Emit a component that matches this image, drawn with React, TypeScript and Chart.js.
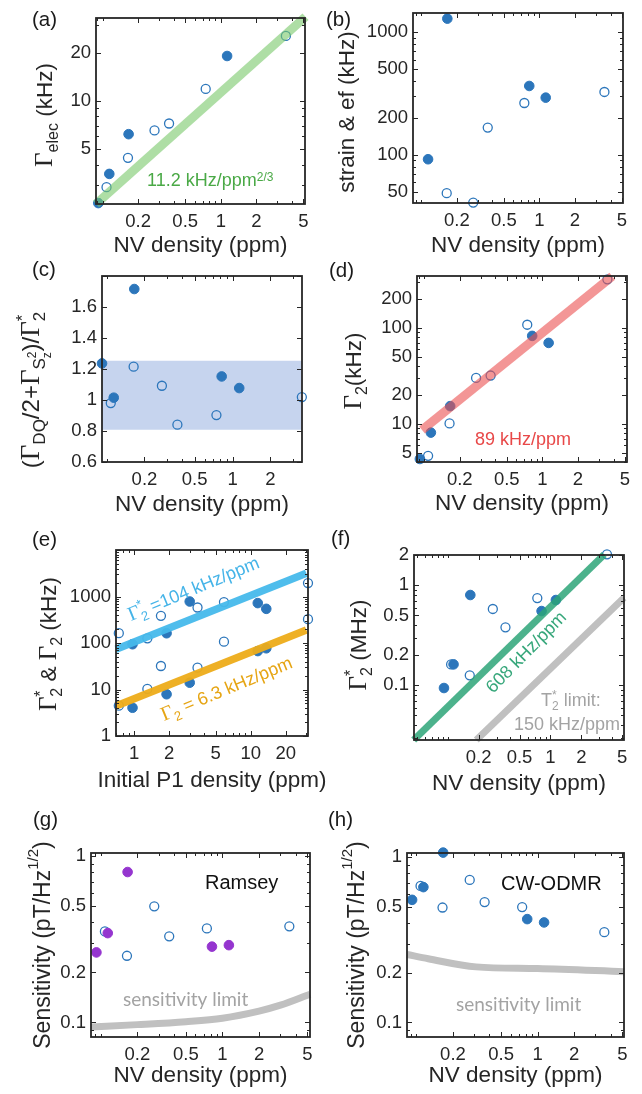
import React, { useEffect, useRef } from "react";
import { Chart, registerables } from "chart.js";

Chart.register(...registerables);

const W = 642;
const H = 1094;
const YW = 60;
const XH = 40;

const AX = "#262626";
const BLUE = "#2c76bb";
const PURPLE = "#9535cf";
const GRAY_LINE = "#c0c0c0";
const GRAY_TEXT = "#a3a3a3";
const SANS = '"Liberation Sans", Arial, Helvetica, sans-serif';
const SERIF = '"Liberation Serif", "Times New Roman", serif';

// ---------------- data ----------------
// NV densities (ppm): filled samples A-E, open samples F-K
const nvFilled = [0.092, 0.114, 0.166, 0.82, 1.13];
const nvOpen = [0.108, 0.164, 0.275, 0.365, 0.745, 3.55];
// initial P1 densities (ppm) of the same samples
const p1Filled = [0.97, 1.9, 3.0, 13.6, 11.5];
const p1Open = [0.74, 1.3, 3.5, 1.7, 5.9, 31];

const nvTicks = [0.2, 0.5, 1, 2, 5];

// (a) Γelec (kHz)
const elecFilled = [2.3, 3.5, 6.2, null, 19.1];
const elecOpen = [2.89, 4.41, 6.54, 7.23, 11.9, 25.5];
const elecFitX = [0.088, 5.2];
const elecFitY = [2.27, 33.6];

// (b) strain & ef (kHz)
const strainFilled = [null, 92, 1295, 365, 293];
const strainOpen = [null, 48.6, 40.7, 167, 265, 326];

// (c) ratio
const ratioFilled = [1.236, 1.015, 1.716, 1.152, 1.077];
const ratioOpen = [0.98, 1.215, 1.092, 0.841, 0.903, 1.019];
const ratioBandX = [0.092, 3.56];
const ratioBandHi = [1.254, 1.254];
const ratioBandLo = [0.808, 0.808];
const ratioTicks = [0.6, 0.8, 1, 1.2, 1.4, 1.6];

// (d) Γ2 (kHz)
const t2Filled = [4.3, 8.1, 15.3, 82.6, 69.8];
const t2Open = [4.64, 10.1, 30.1, 31.9, 108, 321];
const t2FitX = [0.096, 3.9];
const t2FitY = [8.6, 345];

// (e) Γ2* and Γ2 vs P1 (kHz)
const p1StarFilled = [94, 162, 780, 543, 721];
const p1StarOpen = [163, 126, 580, 384, 757, 1945];
const p1EchoFilled = [4.05, 7.9, 14, 77, 67];
const p1EchoOpen = [4.5, 10.3, 29.5, 32, 107, 326];
const p1StarFitX = [0.7, 30];
const p1StarFitY = [73, 3150];
const p1EchoFitX = [0.7, 30];
const p1EchoFitY = [4.4, 190];

// (f) Γ2* (MHz)
const t2sFilled = [0.094, 0.162, 0.8, 0.553, 0.713];
const t2sOpen = [0.162, 0.126, 0.58, 0.38, 0.746, 2.04];
const t2sFitX = [0.0467, 3.34];
const t2sFitY = [0.0284, 2.03];
const t2sLimX = [0.19, 5.2];
const t2sLimY = [0.0284, 0.75];

// (g) Ramsey sensitivity (pT/Hz^1/2)
const ramseyFilled = [0.264, 0.345, 0.805, 0.286, 0.292];
const ramseyOpen = [0.353, 0.252, 0.5, 0.33, 0.368, 0.379];
const ramseyLimX = [0.083, 0.2, 0.5, 1, 2, 3, 5.25];
const ramseyLimY = [0.094, 0.097, 0.101, 0.106, 0.117, 0.127, 0.148];

// (h) CW-ODMR sensitivity
const odmrFilled = [0.552, 0.659, 1.066, 0.422, 0.403];
const odmrOpen = [0.67, 0.496, 0.729, 0.535, 0.499, 0.352];
const odmrLimX = [0.0835, 0.125, 0.31, 1, 5.16];
const odmrLimY = [0.258, 0.243, 0.217, 0.212, 0.203];

// ---------------- helpers ----------------
type Seg = { t: string; s: number; serif?: boolean; family?: string; dy?: number; back?: boolean };
type Note = { segs: Seg[]; x: number; y: number; rot?: number; color: string; align?: "left" | "center" };
type Axis = { log: boolean; min: number; max: number; ticks: number[]; marks?: number[] };
type Panel = {
  id: string;
  box: { l: number; r: number; t: number; b: number };
  x: Axis;
  y: Axis;
  datasets: any[];
  yTitle: Seg[];
  yTitleX: number;
  yTitleY: number;
  xTitle: string;
  xTitleY: number;
  letter: string;
  letterX: number;
  letterY: number;
  notes: Note[];
};

const fontOf = (s: Seg) => `${s.s}px ${s.family ? s.family : s.serif ? SERIF : SANS}`;
const fmt = (v: number) => String(parseFloat(v.toPrecision(6)));

const pts = (xs: number[], ys: (number | null)[]) =>
  xs.map((x, i) => ({ x, y: ys[i] })).filter((d) => d.y !== null && d.y !== undefined);

const filledDs = (xs: number[], ys: (number | null)[], color = BLUE) => ({
  type: "scatter",
  data: pts(xs, ys),
  pointRadius: 4.8,
  pointBackgroundColor: color,
  pointBorderColor: color,
  pointBorderWidth: 1,
  showLine: false,
  clip: false,
  order: 1,
});
const openDs = (xs: number[], ys: (number | null)[]) => ({
  type: "scatter",
  data: pts(xs, ys),
  pointRadius: 4.5,
  pointBackgroundColor: "rgba(0,0,0,0)",
  pointBorderColor: BLUE,
  pointBorderWidth: 1.3,
  showLine: false,
  clip: false,
  order: 1,
});
const lineDs = (xs: number[], ys: number[], color: string, width: number, extra: any = {}) => ({
  type: "line",
  data: pts(xs, ys),
  borderColor: color,
  borderWidth: width,
  pointRadius: 0,
  borderCapStyle: "butt",
  fill: false,
  clip: false,
  order: 0,
  ...extra,
});

function drawSegs(ctx: CanvasRenderingContext2D, segs: Seg[], x: number, y: number, rot: number, align: string, color: string) {
  ctx.save();
  ctx.translate(x, y);
  ctx.rotate((rot * Math.PI) / 180);
  ctx.fillStyle = color;
  ctx.textBaseline = "alphabetic";
  ctx.textAlign = "left";
  const items: { seg: Seg; start: number }[] = [];
  let cursor = 0;
  let prevStart = 0;
  let prevEnd = 0;
  for (const s of segs) {
    ctx.font = fontOf(s);
    const w = ctx.measureText(s.t).width;
    const start = s.back ? prevStart : cursor;
    items.push({ seg: s, start });
    if (s.back) {
      cursor = Math.max(prevEnd, start + w);
      prevEnd = cursor;
    } else {
      prevStart = start;
      prevEnd = start + w;
      cursor = prevEnd;
    }
  }
  const off = align === "center" ? -cursor / 2 : 0;
  for (const it of items) {
    ctx.font = fontOf(it.seg);
    ctx.fillText(it.seg.t, off + it.start, it.seg.dy || 0);
  }
  ctx.restore();
}

function minorVals(ax: Axis) {
  if (!ax.log) return [];
  const out: number[] = [];
  const d0 = Math.floor(Math.log10(ax.min));
  const d1 = Math.ceil(Math.log10(ax.max));
  const all = ax.ticks.concat(ax.marks || []);
  for (let d = d0; d <= d1; d++) {
    for (let k = 1; k <= 9; k++) {
      const v = k * Math.pow(10, d);
      if (v < ax.min || v > ax.max) continue;
      if (all.some((m) => Math.abs(m - v) / v < 1e-6)) continue;
      out.push(v);
    }
  }
  return out;
}

function decorPlugin(p: Panel) {
  return {
    id: "decor_" + p.id,
    afterDatasetsDraw(chart: any) {
      const { ctx, chartArea: a } = chart;
      const xs = chart.scales.x;
      const ys = chart.scales.y;
      ctx.save();
      ctx.strokeStyle = AX;
      ctx.lineWidth = 1;
      const xTick = (v: number, len: number) => {
        const px = Math.round(xs.getPixelForValue(v)) + 0.5;
        if (px < a.left - 0.5 || px > a.right + 0.5) return;
        ctx.beginPath();
        ctx.moveTo(px, a.bottom);
        ctx.lineTo(px, a.bottom - len);
        ctx.moveTo(px, a.top);
        ctx.lineTo(px, a.top + len);
        ctx.stroke();
      };
      const yTick = (v: number, len: number) => {
        const py = Math.round(ys.getPixelForValue(v)) + 0.5;
        if (py < a.top - 0.5 || py > a.bottom + 0.5) return;
        ctx.beginPath();
        ctx.moveTo(a.left, py);
        ctx.lineTo(a.left + len, py);
        ctx.moveTo(a.right, py);
        ctx.lineTo(a.right - len, py);
        ctx.stroke();
      };
      p.x.ticks.concat(p.x.marks || []).forEach((v) => xTick(v, 5));
      minorVals(p.x).forEach((v) => xTick(v, 3));
      p.y.ticks.concat(p.y.marks || []).forEach((v) => yTick(v, 5));
      minorVals(p.y).forEach((v) => yTick(v, 3));
      ctx.lineWidth = 1.8;
      ctx.strokeRect(a.left, a.top, a.right - a.left, a.bottom - a.top);
      ctx.restore();
    },
    afterDraw(chart: any) {
      const { ctx } = chart;
      const b = p.box;
      drawSegs(ctx, p.yTitle, p.yTitleX, p.yTitleY, -90, "center", AX);
      drawSegs(ctx, [{ t: p.xTitle, s: 22.5 }], (b.l + b.r) / 2, p.xTitleY, 0, "center", AX);
      drawSegs(ctx, [{ t: p.letter, s: 20.5 }], p.letterX, p.letterY, 0, "left", "#1a1a1a");
      for (const n of p.notes) drawSegs(ctx, n.segs, n.x, n.y, n.rot || 0, n.align || "left", n.color);
    },
  };
}

function axisOpts(ax: Axis, isX: boolean) {
  return {
    type: ax.log ? "logarithmic" : "linear",
    min: ax.min,
    max: ax.max,
    position: isX ? "bottom" : "left",
    grid: { display: false, drawTicks: false },
    border: { display: false },
    ticks: {
      autoSkip: false,
      maxRotation: 0,
      minRotation: 0,
      padding: isX ? 6.5 : 5,
      color: AX,
      font: { family: SANS, size: 18.5 },
      callback: (v: any) => fmt(Number(v)),
    },
    afterBuildTicks: (s: any) => {
      s.ticks = ax.ticks.map((v) => ({ value: v }));
    },
    afterFit: (s: any) => {
      if (isX) s.height = XH;
      else s.width = YW;
      s.paddingLeft = 0;
      s.paddingRight = 0;
      s.paddingTop = 0;
      s.paddingBottom = 0;
    },
  };
}

function buildConfig(p: Panel): any {
  return {
    type: "scatter",
    data: { datasets: p.datasets },
    options: {
      animation: false,
      responsive: false,
      devicePixelRatio: 1,
      events: [],
      layout: {
        padding: { left: p.box.l - YW, right: W - p.box.r, top: p.box.t, bottom: H - p.box.b - XH },
      },
      plugins: { legend: { display: false }, tooltip: { enabled: false } },
      scales: { x: axisOpts(p.x, true), y: axisOpts(p.y, false) },
    },
    plugins: [decorPlugin(p)],
  };
}

const G = (s = 25): Seg => ({ t: "Γ", s, serif: true });

// ---------------- panels ----------------
const PANELS: Panel[] = [
  {
    id: "a",
    box: { l: 96, r: 305, t: 18, b: 204 },
    x: { log: true, min: 0.088, max: 5.15, ticks: nvTicks },
    y: { log: true, min: 2.27, max: 33, ticks: [5, 10, 20] },
    datasets: [
      lineDs(elecFitX, elecFitY, "rgba(120, 200, 105, 0.6)", 9),
      filledDs(nvFilled, elecFilled),
      openDs(nvOpen, elecOpen),
    ],
    yTitle: [G(25), { t: "elec", s: 16, dy: 6 }, { t: " (kHz)", s: 22.5 }],
    yTitleX: 52,
    yTitleY: 115,
    xTitle: "NV density (ppm)",
    xTitleY: 252,
    letter: "(a)",
    letterX: 32,
    letterY: 26,
    notes: [
      { segs: [{ t: "11.2 kHz/ppm", s: 18 }, { t: "2/3", s: 12, dy: -5 }], x: 147, y: 186, color: "#4aa946" },
    ],
  },
  {
    id: "b",
    box: { l: 413, r: 623, t: 13, b: 203 },
    x: { log: true, min: 0.085, max: 5.1, ticks: nvTicks },
    y: { log: true, min: 40.4, max: 1440, ticks: [50, 100, 200, 500, 1000] },
    datasets: [filledDs(nvFilled, strainFilled), openDs(nvOpen, strainOpen)],
    yTitle: [{ t: "strain & ef (kHz)", s: 22.5 }],
    yTitleX: 354,
    yTitleY: 112,
    xTitle: "NV density (ppm)",
    xTitleY: 252,
    letter: "(b)",
    letterX: 326,
    letterY: 26,
    notes: [],
  },
  {
    id: "c",
    box: { l: 102, r: 302, t: 276, b: 462 },
    x: { log: true, min: 0.092, max: 3.56, ticks: [0.2, 0.5, 1, 2] },
    y: { log: false, min: 0.6, max: 1.8, ticks: ratioTicks, marks: [1.8] },
    datasets: [
      lineDs(ratioBandX, ratioBandHi, "rgba(0,0,0,0)", 1, { fill: "+1", backgroundColor: "#c6d4ee", order: 10, clip: 0 }),
      lineDs(ratioBandX, ratioBandLo, "rgba(0,0,0,0)", 1, { order: 11, clip: 0 }),
      filledDs(nvFilled, ratioFilled),
      openDs(nvOpen, ratioOpen),
    ],
    yTitle: [
      { t: "(", s: 24 },
      G(27),
      { t: "DQ", s: 17, dy: 6 },
      { t: "/2+", s: 24 },
      G(27),
      { t: "S", s: 17, dy: 6 },
      { t: "2", s: 12, dy: -3 },
      { t: "z", s: 12, dy: 12, back: true },
      { t: ")/", s: 24 },
      G(27),
      { t: "*", s: 17, dy: -11 },
      { t: "2", s: 17, dy: 6, back: true },
    ],
    yTitleX: 39,
    yTitleY: 390,
    xTitle: "NV density (ppm)",
    xTitleY: 511,
    letter: "(c)",
    letterX: 32,
    letterY: 276,
    notes: [],
  },
  {
    id: "d",
    box: { l: 417, r: 627, t: 276, b: 462 },
    x: { log: true, min: 0.087, max: 5.2, ticks: nvTicks },
    y: { log: true, min: 4.0, max: 348, ticks: [5, 10, 20, 50, 100, 200] },
    datasets: [
      lineDs(t2FitX, t2FitY, "rgba(235, 80, 80, 0.6)", 9),
      filledDs(nvFilled, t2Filled),
      openDs(nvOpen, t2Open),
    ],
    yTitle: [G(25), { t: "2", s: 16, dy: 6 }, { t: "(kHz)", s: 22.5 }],
    yTitleX: 361,
    yTitleY: 371,
    xTitle: "NV density (ppm)",
    xTitleY: 509.5,
    letter: "(d)",
    letterX: 329,
    letterY: 277,
    notes: [{ segs: [{ t: "89 kHz/ppm", s: 18 }], x: 475, y: 445, color: "#e84848" }],
  },
  {
    id: "e",
    box: { l: 116, r: 308, t: 550, b: 736 },
    x: { log: true, min: 0.7, max: 31, ticks: [1, 2, 5, 10, 20] },
    y: { log: true, min: 1, max: 10000, ticks: [1, 10, 100, 1000], marks: [10000] },
    datasets: [
      lineDs(p1StarFitX, p1StarFitY, "rgba(70, 185, 235, 0.95)", 7.5),
      lineDs(p1EchoFitX, p1EchoFitY, "rgba(237, 172, 25, 0.95)", 7.5),
      filledDs(p1Filled, p1StarFilled),
      openDs(p1Open, p1StarOpen),
      filledDs(p1Filled, p1EchoFilled),
      openDs(p1Open, p1EchoOpen),
    ],
    yTitle: [
      G(25),
      { t: "*", s: 16, dy: -10 },
      { t: "2", s: 16, dy: 6, back: true },
      { t: " & ", s: 22.5 },
      G(25),
      { t: "2", s: 16, dy: 6 },
      { t: " (kHz)", s: 22.5 },
    ],
    yTitleX: 56,
    yTitleY: 644,
    xTitle: "Initial P1 density (ppm)",
    xTitleY: 787,
    letter: "(e)",
    letterX: 32,
    letterY: 546,
    notes: [
      {
        segs: [G(20), { t: "*", s: 13, dy: -8 }, { t: "2", s: 13, dy: 5, back: true }, { t: " =104 kHz/ppm", s: 18 }],
        x: 131,
        y: 621,
        rot: -22.5,
        color: "#45b4e8",
      },
      {
        segs: [G(20), { t: "2", s: 13, dy: 5 }, { t: " = 6.3 kHz/ppm", s: 18 }],
        x: 164,
        y: 721,
        rot: -22.5,
        color: "#e6a514",
      },
    ],
  },
  {
    id: "f",
    box: { l: 414, r: 624, t: 555, b: 740 },
    x: { log: true, min: 0.047, max: 5.2, ticks: nvTicks },
    y: { log: true, min: 0.0284, max: 2.01, ticks: [0.1, 0.2, 0.5, 1, 2] },
    datasets: [
      lineDs(t2sFitX, t2sFitY, "rgba(45, 165, 120, 0.85)", 7),
      lineDs(t2sLimX, t2sLimY, GRAY_LINE, 7),
      filledDs(nvFilled, t2sFilled),
      openDs(nvOpen, t2sOpen),
    ],
    yTitle: [G(25), { t: "*", s: 16, dy: -10 }, { t: "2", s: 16, dy: 6, back: true }, { t: " (MHz)", s: 22.5 }],
    yTitleX: 366,
    yTitleY: 645,
    xTitle: "NV density (ppm)",
    xTitleY: 790,
    letter: "(f)",
    letterX: 331,
    letterY: 545,
    notes: [
      { segs: [{ t: "608 kHz/ppm", s: 18 }], x: 493, y: 694, rot: -45.5, color: "#37a77b" },
      {
        segs: [{ t: "T", s: 18 }, { t: "*", s: 12, dy: -7 }, { t: "2", s: 12, dy: 4, back: true }, { t: " limit:", s: 18 }],
        x: 541,
        y: 706,
        color: GRAY_TEXT,
      },
      { segs: [{ t: "150 kHz/ppm", s: 18 }], x: 514, y: 730, color: GRAY_TEXT },
    ],
  },
  {
    id: "g",
    box: { l: 91, r: 310, t: 853, b: 1037 },
    x: { log: true, min: 0.083, max: 5.25, ticks: nvTicks },
    y: { log: true, min: 0.0817, max: 1.048, ticks: [0.1, 0.2, 0.5, 1] },
    datasets: [
      lineDs(ramseyLimX, ramseyLimY, GRAY_LINE, 7, { cubicInterpolationMode: "monotone" }),
      filledDs(nvFilled, ramseyFilled, PURPLE),
      openDs(nvOpen, ramseyOpen),
    ],
    yTitle: [{ t: "Sensitivity (pT/Hz", s: 23 }, { t: "1/2", s: 15, dy: -12 }, { t: ")", s: 23 }],
    yTitleX: 50,
    yTitleY: 945,
    xTitle: "NV density (ppm)",
    xTitleY: 1082,
    letter: "(g)",
    letterX: 33,
    letterY: 826,
    notes: [
      { segs: [{ t: "Ramsey", s: 20 }], x: 205, y: 889, color: "#111111" },
      { segs: [{ t: "sensitivity limit", s: 19, family: "Lato, sans-serif" }], x: 123, y: 1006, color: GRAY_TEXT },
    ],
  },
  {
    id: "h",
    box: { l: 407, r: 624, t: 853, b: 1037 },
    x: { log: true, min: 0.0835, max: 5.16, ticks: nvTicks },
    y: { log: true, min: 0.0817, max: 1.06, ticks: [0.1, 0.2, 0.5, 1] },
    datasets: [
      lineDs(odmrLimX, odmrLimY, GRAY_LINE, 7, { cubicInterpolationMode: "monotone" }),
      filledDs(nvFilled, odmrFilled),
      openDs(nvOpen, odmrOpen),
    ],
    yTitle: [{ t: "Sensitivity (pT/Hz", s: 23 }, { t: "1/2", s: 15, dy: -12 }, { t: ")", s: 23 }],
    yTitleX: 364,
    yTitleY: 945,
    xTitle: "NV density (ppm)",
    xTitleY: 1082,
    letter: "(h)",
    letterX: 328,
    letterY: 826,
    notes: [
      { segs: [{ t: "CW-ODMR", s: 20 }], x: 501, y: 890, color: "#111111" },
      { segs: [{ t: "sensitivity limit", s: 19, family: "Lato, sans-serif" }], x: 456, y: 1011, color: GRAY_TEXT },
    ],
  },
];

function PanelChart({ p }: { p: Panel }) {
  const ref = useRef<HTMLCanvasElement | null>(null);
  useEffect(() => {
    if (!ref.current) return;
    const chart = new Chart(ref.current, buildConfig(p));
    return () => chart.destroy();
  }, [p]);
  return (
    <canvas
      ref={ref}
      width={W}
      height={H}
      style={{ position: "absolute", left: 0, top: 0, width: W, height: H }}
    />
  );
}

export default function App() {
  return (
    <div style={{ position: "absolute", left: 0, top: 0, width: W, height: H, background: "#ffffff" }}>
      {PANELS.map((p) => (
        <PanelChart key={p.id} p={p} />
      ))}
    </div>
  );
}
